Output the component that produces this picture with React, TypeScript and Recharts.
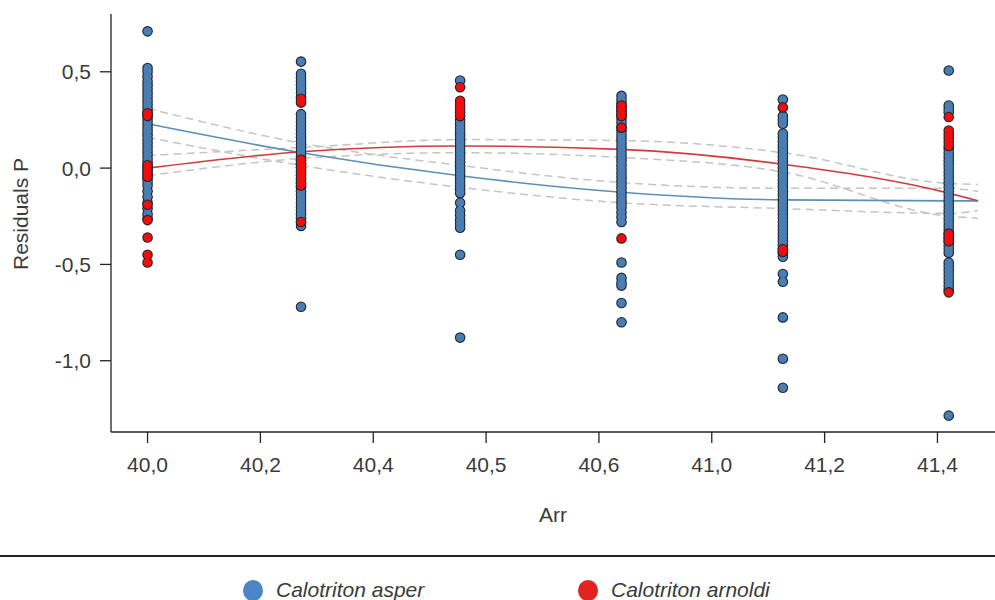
import {
  ComposedChart, Scatter, Line, XAxis, YAxis,
} from 'recharts'

// tick labels on the Arr axis (evenly spaced, one per step)
const xTickLabels = ['40,0', '40,2', '40,4', '40,5', '40,6', '41,0', '41,2', '41,4']
const xTicks = [0, 1, 2, 3, 4, 5, 6, 7]
const yTicks = [-1, -0.5, 0, 0.5]

// position of each sampled site along the axis, in tick steps
const sitePositions = [0, 1.36, 2.77, 4.2, 5.63, 7.1]

// residuals per site, Calotriton asper
const asperSites = [
  [0.71, 0.52, 0.5, 0.475, 0.45, 0.43, 0.41, 0.39, 0.37, 0.35, 0.33, 0.31, 0.29, 0.27, 0.25, 0.23, 0.21, 0.19, 0.17, 0.15, 0.13, 0.11, 0.09, 0.07, 0.05, 0.03, 0.01, -0.01, -0.03, -0.05, -0.07, -0.09, -0.12, -0.15, -0.18, -0.21, -0.24, -0.26],
  [0.553, 0.49, 0.47, 0.45, 0.43, 0.41, 0.39, 0.37, 0.28, 0.26, 0.24, 0.22, 0.2, 0.18, 0.16, 0.14, 0.12, 0.1, 0.08, 0.06, 0.04, 0.02, 0, -0.02, -0.04, -0.06, -0.08, -0.1, -0.12, -0.14, -0.16, -0.18, -0.2, -0.22, -0.24, -0.26, -0.28, -0.3, -0.72],
  [0.455, 0.25, 0.23, 0.21, 0.19, 0.17, 0.15, 0.13, 0.11, 0.09, 0.07, 0.05, 0.03, 0.01, -0.01, -0.03, -0.05, -0.07, -0.09, -0.11, -0.13, -0.18, -0.22, -0.245, -0.27, -0.29, -0.31, -0.45, -0.88],
  [0.375, 0.355, 0.335, 0.315, 0.295, 0.275, 0.255, 0.235, 0.215, 0.195, 0.175, 0.155, 0.135, 0.115, 0.095, 0.075, 0.055, 0.035, 0.015, -0.005, -0.025, -0.045, -0.065, -0.085, -0.105, -0.125, -0.145, -0.165, -0.185, -0.205, -0.23, -0.255, -0.28, -0.49, -0.57, -0.595, -0.61, -0.7, -0.8],
  [0.356, 0.27, 0.25, 0.23, 0.18, 0.16, 0.14, 0.12, 0.1, 0.08, 0.06, 0.04, 0.02, 0, -0.02, -0.04, -0.06, -0.08, -0.1, -0.12, -0.14, -0.16, -0.18, -0.2, -0.22, -0.24, -0.26, -0.28, -0.3, -0.32, -0.34, -0.36, -0.38, -0.4, -0.42, -0.44, -0.46, -0.55, -0.59, -0.775, -0.99, -1.14],
  [0.507, 0.325, 0.305, 0.29, 0.1, 0.08, 0.06, 0.04, 0.02, 0, -0.02, -0.04, -0.06, -0.08, -0.1, -0.12, -0.14, -0.16, -0.18, -0.2, -0.22, -0.24, -0.26, -0.28, -0.3, -0.32, -0.34, -0.36, -0.38, -0.4, -0.42, -0.44, -0.49, -0.51, -0.53, -0.55, -0.57, -0.59, -0.61, -0.63, -1.285],
]

// residuals per site, Calotriton arnoldi
const arnoldiSites = [
  [0.285, 0.27, 0.015, -0.005, -0.025, -0.045, -0.19, -0.27, -0.36, -0.45, -0.49],
  [0.36, 0.34, 0.045, 0.025, 0.005, -0.015, -0.035, -0.055, -0.075, -0.09, -0.28],
  [0.42, 0.35, 0.33, 0.31, 0.29, 0.27],
  [0.325, 0.305, 0.285, 0.27, 0.21, -0.365],
  [0.315, -0.42, -0.435],
  [0.265, 0.195, 0.175, 0.155, 0.135, 0.115, -0.34, -0.36, -0.38, -0.645],
]

// fitted curves with confidence bands
const fitPositions = [0, 1.36, 2.77, 4.2, 5.63, 7.1, 7.36]
const asperFit = [0.23, 0.08, -0.04, -0.125, -0.165, -0.17, -0.17]
const asperUpper = [0.31, 0.13, 0.014, -0.075, -0.105, -0.105, -0.12]
const asperLower = [0.16, 0.014, -0.1, -0.18, -0.21, -0.235, -0.22]
const arnoldiFit = [0, 0.085, 0.115, 0.097, 0.02, -0.13, -0.17]
const arnoldiUpper = [0.065, 0.107, 0.148, 0.143, 0.08, -0.08, -0.085]
const arnoldiLower = [-0.04, 0.05, 0.08, 0.055, -0.02, -0.25, -0.26]

const FONT = '"Liberation Sans", Arial, sans-serif'
const TEXT = '#3a3a3a'
const ASPER = '#4a7db2'
const ARNOLDI = '#f20d0d'
const OUTLINE = '#1d2633'

const toPoints = (sites: number[][]) =>
  sites.flatMap((vals, i) => vals.map(y => ({ x: sitePositions[i], y })))

const toCurve = (vals: number[]) => vals.map((y, i) => ({ x: fitPositions[i], y }))

const comma = (v: number) => v.toFixed(1).replace('.', ',')

// dots are drawn in two passes (dark rim, then fill) so stacked points merge into one outlined strip
function Rim(props: any) {
  const { cx, cy } = props
  if (cx == null || cy == null) return null
  return <circle cx={cx} cy={cy} r={5.3} fill={OUTLINE} />
}

function Fill(props: any) {
  const { cx, cy, fill } = props
  if (cx == null || cy == null) return null
  return <circle cx={cx} cy={cy} r={4.2} fill={fill} />
}

export default function App() {
  const asperPts = toPoints(asperSites)
  const arnoldiPts = toPoints(arnoldiSites)
  const bands = [asperUpper, asperLower, arnoldiUpper, arnoldiLower]

  return (
    <div style={{ position: 'absolute', left: 0, top: 0, width: 995, height: 600, overflow: 'hidden', background: '#fff', fontFamily: FONT }}>
      <ComposedChart width={995} height={600} margin={{ top: 14, right: 0, left: 0, bottom: 68 }}>
        <XAxis
          type="number"
          dataKey="x"
          domain={[-0.324, 7.51]}
          ticks={xTicks}
          allowDataOverflow
          tickFormatter={(i: number) => xTickLabels[i]}
          height={100}
          tickSize={11}
          tickMargin={14}
          fontSize={21}
          axisLine={{ stroke: '#222', strokeWidth: 1.3 }}
          tickLine={{ stroke: '#222', strokeWidth: 1.3 }}
          tick={{ fontSize: 21, fill: TEXT, fontFamily: FONT }}
          label={{ value: 'Arr', position: 'insideBottom', offset: 10, fontSize: 21, fill: TEXT, fontFamily: FONT }}
        />
        <YAxis
          type="number"
          dataKey="y"
          domain={[-1.37, 0.8]}
          ticks={yTicks}
          allowDataOverflow
          tickFormatter={comma}
          width={111}
          tickSize={11}
          tickMargin={9}
          fontSize={21}
          axisLine={{ stroke: '#222', strokeWidth: 1.3 }}
          tickLine={{ stroke: '#222', strokeWidth: 1.3 }}
          tick={{ fontSize: 21, fill: TEXT, fontFamily: FONT }}
          label={{
            content: () => (
              <text x={20} y={214} transform="rotate(-90 20 214)" textAnchor="middle" dominantBaseline="central"
                fontSize={21} fill={TEXT} fontFamily={FONT}>Residuals P</text>
            ),
          }}
        />
        <Scatter name="Calotriton asper" data={asperPts} dataKey="y" fill={ASPER} shape={Rim} legendType="none" isAnimationActive={false} />
        <Scatter name="Calotriton asper" data={asperPts} dataKey="y" fill={ASPER} shape={Fill} isAnimationActive={false} />
        <Scatter name="Calotriton arnoldi" data={arnoldiPts} dataKey="y" fill={ARNOLDI} shape={Rim} legendType="none" isAnimationActive={false} />
        <Scatter name="Calotriton arnoldi" data={arnoldiPts} dataKey="y" fill={ARNOLDI} shape={Fill} isAnimationActive={false} />
        {bands.map((b, i) => (
          <Line key={i} data={toCurve(b)} dataKey="y" type="monotone" stroke="#c4c4c4" strokeWidth={1.5}
            strokeDasharray="8 5" dot={false} activeDot={false} isAnimationActive={false} />
        ))}
        <Line data={toCurve(asperFit)} dataKey="y" type="monotone" stroke="#5b8fb9" strokeWidth={1.6}
          dot={false} activeDot={false} isAnimationActive={false} />
        <Line data={toCurve(arnoldiFit)} dataKey="y" type="monotone" stroke="#d23a3c" strokeWidth={1.6}
          dot={false} activeDot={false} isAnimationActive={false} />
      </ComposedChart>

      <div style={{ position: 'absolute', left: 0, top: 555, width: 995, height: 1.5, background: '#222' }} />
      {[
        { label: 'Calotriton asper', color: '#4a86c6', left: 243 },
        { label: 'Calotriton arnoldi', color: '#e2231f', left: 578 },
      ].map(item => (
        <div key={item.label} style={{ position: 'absolute', left: item.left, top: 579, display: 'flex', alignItems: 'center', height: 22 }}>
          <span style={{ width: 20, height: 21, borderRadius: '50%', background: item.color, display: 'inline-block' }} />
          <span style={{ marginLeft: 13, fontSize: 21, fontStyle: 'italic', color: TEXT, fontFamily: FONT }}>{item.label}</span>
        </div>
      ))}
    </div>
  )
}
